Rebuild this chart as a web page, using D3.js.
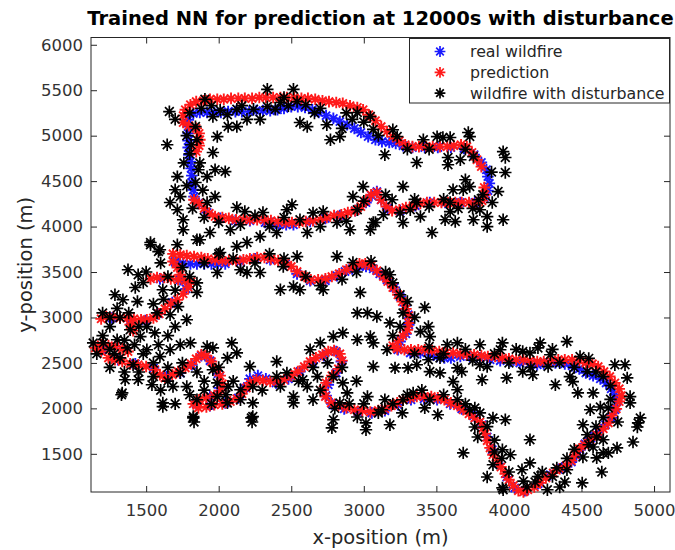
<!DOCTYPE html>
<html>
<head>
<meta charset="utf-8">
<script src="https://cdn.jsdelivr.net/npm/d3@7"></script>
<style>
  html, body { margin: 0; padding: 0; background: #fff; }
  svg { display: block; font-family: "DejaVu Sans", "Liberation Sans", sans-serif; }
</style>
</head>
<body>
<svg id="chart" width="675" height="550"></svg>
<script>
// Axis ticks and labels
const xTicks = [1500, 2000, 2500, 3000, 3500, 4000, 4500, 5000];
const yTicks = [1500, 2000, 2500, 3000, 3500, 4000, 4500, 5000, 5500, 6000];
const seriesNames = ["real wildfire", "prediction", "wildfire with disturbance"];
const seriesColors = ["#1a1aff", "#ff1a1a", "#000000"];

// Real wildfire front (x, y in metres)
const realFire = [
  [1790,5175],[1790,5100],[1790,5025],[1790,4945],[1790,4870],[1795,4790],[1805,4715],[1810,4640],[1815,4560],[1815,4485],[1825,4405],[1830,4330],[1860,4255],
  [1825,5245],[1870,5255],[1920,5255],[1970,5255],[2015,5255],[2065,5265],[2115,5265],[2160,5265],[2210,5265],[2260,5275],[2305,5275],[2355,5275],[2405,5285],[2450,5300],[2500,5320],[2545,5320],[2595,5310],[2645,5285],[2690,5255],[2740,5220],[2790,5190],[2835,5155],[2885,5120],[2935,5080],[2980,5035],[3030,4990],[3080,4955],[3125,4935],[3175,4925],[3220,4915],[3270,4890],
  [3335,4870],[3420,4870],[3510,4870],[3600,4870],[3690,4860],[3760,4790],[3810,4705],[3845,4625],[3855,4550],[3865,4475],[3855,4395],[3830,4320],
  [3765,4265],[3665,4265],[3560,4265],[3455,4265],[3355,4230],[3250,4175],[3165,4200],[3120,4295],[3090,4385],[3055,4340],[3015,4265],[2940,4175],[2835,4120],[2735,4090],[2630,4055],[2515,4020],[2465,4020],[2415,4020],[2370,4035],[2320,4045],[2215,4065],[2115,4065],[2010,4090],[1920,4155],
  [1705,3600],[1755,3595],[1805,3590],[1850,3590],[1900,3590],[1950,3590],[1995,3590],[2045,3590],[2150,3615],[2250,3645],[2355,3635],[2460,3590],[2540,3480],[2630,3405],[2735,3405],[2815,3460],[2870,3505],[2920,3535],[2970,3560],[3015,3560],[3065,3535],[3110,3480],[3160,3415],[3210,3330],[3250,3230],[3285,3130],[3305,3030],[3310,2920],[3290,2820],[3250,2735],[3235,2645],
  [3320,2610],[3390,2610],[3455,2590],[3505,2570],[3555,2555],[3600,2555],[3665,2570],[3730,2570],[3800,2555],[3870,2535],[3940,2525],[4010,2515],[4075,2500],[4145,2490],[4195,2480],[4240,2490],[4320,2500],[4385,2490],[4435,2470],[4485,2435],[4530,2390],[4580,2360],[4630,2325],[4670,2280],[4705,2215],[4730,2150],[4745,2075],
  [4730,1985],[4705,1895],[4665,1820],[4615,1740],[4565,1675],[4525,1610],[4490,1545],[4465,1480],[4430,1410],[4365,1345],[4285,1270],[4200,1170],[4110,1095],[4040,1125],[3985,1245],[3930,1390],[3885,1545],[3850,1685],[3815,1820],[3755,1920],[3675,1995],[3595,2050],[3505,2095],[3415,2105],[3325,2095],[3235,2040],[3145,1975],[3055,1950],[2960,1960],[2865,1995],[2780,2050],[2740,2140],[2755,2260],[2810,2390],[2845,2515],[2810,2625],[2725,2580],[2645,2500],[2560,2405],[2480,2325],[2395,2280],[2325,2325],[2270,2360],[2215,2325],[2175,2225],[2135,2115],[2045,2060],[1940,2030],[1845,2050],[1940,2130],[2005,2225],[1995,2380],[1940,2525],[1880,2580],[1815,2480],[1735,2390],[1640,2350],[1550,2445],[1425,2490],[1305,2535],[1195,2645],[1285,2680],[1390,2965],[1265,2995],[1495,2965],[1585,3040],[1680,3165],[1775,3315],[1735,3415],[1595,3425],[1700,3615]
];

// Network prediction of the front
const predicted = [
  [1755,5145],[1755,5220],[1770,5285],[1805,5340],[1845,5375],[1895,5385],[1940,5400],[1990,5400],[2035,5400],[2085,5410],[2135,5410],[2180,5410],[2230,5410],[2280,5420],[2325,5420],[2375,5420],[2425,5420],[2470,5420],[2520,5420],[2570,5410],[2615,5410],[2665,5400],[2715,5385],[2760,5375],[2810,5365],[2855,5355],[2905,5330],[2955,5310],[2995,5285],[3035,5230],[3080,5165],[3120,5100],[3160,5045],[3200,4990],[3245,4945],[3285,4900],[3335,4880],[3380,4880],[3430,4880],[3475,4880],[3525,4880],[3575,4880],[3620,4890],[3670,4900],[3710,4880],[3745,4815],[3780,4735],[3810,4660],[3830,4430],[3835,4350],[3815,4285],
  [3775,4265],[3725,4265],[3675,4265],[3630,4265],[3580,4265],[3535,4265],[3485,4265],[3435,4265],[3390,4255],[3340,4230],[3290,4210],[3245,4185],[3195,4175],[3155,4220],[3120,4295],[3090,4375],[3050,4350],[3015,4285],[2980,4220],[2940,4175],[2890,4155],[2845,4130],[2795,4120],[2745,4100],[2700,4075],[2650,4065],[2600,4055],[2555,4045],[2505,4045],[2460,4045],[2410,4055],[2360,4065],[2315,4075],[2265,4075],[2215,4075],[2170,4075],[2120,4075],[2070,4090],[2025,4100],[1975,4110],[1935,4145],[1900,4200],[1865,4255],[1830,4295],
  [1845,4825],[1865,4890],[1870,4955],[1865,5025],[1845,5080],[1795,5110],
  [1285,2535],[1335,2515],[1390,2490],[1445,2480],[1500,2460],[1560,2425],[1595,2370],[1630,2335],[1680,2370],[1720,2405],[1770,2445],[1810,2490],[1845,2545],[1880,2590],[1915,2580],[1950,2515],[1980,2435],[2010,2360],[2025,2270],[2015,2195],[1970,2140],[1915,2115],[1865,2095],[1825,2050],[1860,2005],[1915,2015],[1970,2040],[2025,2050],[2080,2075],[2125,2105],[2160,2160],[2190,2225],[2215,2280],[2260,2315],[2305,2305],[2355,2295],[2405,2295],[2450,2315],[2500,2360],[2545,2405],[2590,2460],[2630,2515],[2670,2555],[2715,2590],[2755,2625],[2795,2635],[2835,2600],[2850,2525],[2825,2435],[2780,2360],[2740,2280],[2720,2205],[2735,2130],[2775,2060],[2825,2030],[2880,2005],[2935,1985],[2990,1975],[3045,1960],[3100,1975],[3145,1995],[3190,2030],[3230,2060],[3270,2095],[3320,2115],[3365,2130],[3415,2130],[3465,2130],[3510,2115],[3555,2095],[3600,2060],[3645,2030],[3685,1985],[3725,1940],[3765,1895],[3800,1850],[3820,1785],[3835,1720],[3850,1645],[3870,1565],[3890,1490],[3920,1425],[3945,1355],[3975,1280],[4000,1215],[4030,1150],[4065,1095],[4100,1080],[4130,1105],[4175,1135],[4215,1180],[4255,1235],[4305,1290],[4350,1335],[4395,1370],[4430,1425],[4455,1490],[4485,1555],[4520,1600],[4560,1655],[4605,1710],[4650,1775],[4685,1840],[4710,1920],[4740,1995],[4760,2075],[4775,2140],[4760,2215],[4730,2280],[4695,2350],[4655,2405],[4615,2460],[4575,2490],[4530,2500],[4485,2525],[4435,2535],[4385,2535],[4340,2535],[4290,2525],[4240,2515],[4195,2515],[4145,2525],[4100,2535],[4050,2535],[4000,2545],[3955,2555],[3905,2570],[3855,2570],[3810,2580],[3760,2590],[3710,2590],[3665,2600],[3615,2610],[3565,2610],[3520,2625],[3470,2635],[3420,2645],[3375,2645],[3325,2645],[3280,2645],[3230,2655],[3200,2690],[3235,2745],[3270,2800],[3300,2865],[3310,2940],[3310,3020],[3290,3095],[3265,3175],[3235,3250],[3200,3330],[3165,3395],[3135,3450],[3090,3515],[3050,3570],[3010,3590],[2970,3590],[2925,3560],[2880,3525],[2830,3480],[2780,3450],[2735,3425],[2685,3415],[2635,3415],[2590,3450],[2540,3505],[2500,3560],[2460,3605],[2410,3625],[2360,3645],[2315,3660],[2265,3660],[2215,3645],[2170,3635],[2120,3625],[2070,3625],[2025,3625],[1975,3635],[1925,3645],[1880,3660],[1830,3670],[1780,3680],[1735,3690],[1685,3700],
  [1685,3615],[1715,3550],[1735,3470],
  [1530,3425],[1575,3440],[1625,3440],[1670,3425],[1720,3415],[1770,3405],[1810,3395],
  [1790,3330],[1755,3260],[1715,3195],[1670,3150],[1630,3095],[1590,3040],[1550,2995],
  [1505,2975],[1465,2975],[1415,2985],[1370,2995],[1320,2995],[1275,3010],[1225,3010],[1190,2985],[1390,2920],[1410,2855],
  [1150,2665],[1190,2700],[1240,2690],[1285,2680],[1335,2655],[1375,2625],[1190,2625],[1240,2555]
];

// Front measured with disturbance
const disturbed = [
  [1660,5265],[1700,5180],[1645,4900],[1905,5400],[2335,5510],[2515,5510],[2450,5420],[2125,5290],[2065,5100],[2125,5100],[2195,5180],[2285,5180],[2335,5320],[2425,5365],[2540,5375],[2560,5145],[2610,5100],[2745,5120],[2770,4955],[2835,4990],[2955,5255],[3045,5210],[3065,5070],[1960,5210],[1990,4990],[1960,4815],[1975,4625],[2045,4605],[1920,4550],[1715,4550],[1700,4405],[1735,4330],[1665,4265],[1715,4185],[1755,4075],[1755,3965],[1920,4265],[1975,4330],[2125,4210],[2180,4165],[2305,4155],[2470,4185],[2505,4240],[2560,4075],[2610,3935],[2400,3935],[2285,3890],[2080,3965],[1940,3935],[1850,3855],[1530,3825],[2720,4165],[2815,4045],[2905,3965],[2925,4330],[2995,4440],[2955,4185],[3045,3965],[3065,4045],[1840,5100],[1850,4955],[1860,4625],[1840,4485],
  [1800,5250],[1880,5300],[1950,5330],[2010,5280],[2060,5230],[2160,5330],[2240,5290],[2390,5290],[2480,5330],[2600,5340],[2660,5250],[2700,5300],[2880,5250],[2920,5180],[3000,5150],[2850,5080],[1780,5000],[1810,4900],[1760,4700],[1800,4800],[1870,4700],[1780,4450],[1890,4400],[1820,4200],[1900,4100],[2000,4050],[2150,4020],[2250,4120],[2350,4000],[2450,4100],[2650,4150],[2700,4000],[2880,4060],[3000,4280],[3150,4350],[3250,4150],[3350,4300],[3450,4220],[3550,4300],[3650,4200],[3750,4200],[3820,4350],[3880,4600],[3700,4850],[3450,4850],[3300,4850],[3100,5000],
  [3200,5065],[3230,4990],[3145,4790],[3365,4705],[3410,4955],[3505,4990],[3545,4980],[3595,4980],[3580,4760],[3580,4680],[3665,4735],[3720,5035],[3730,4990],[3755,4770],[3960,4825],[3975,4760],[3975,4595],[3925,4385],[3960,4075],[3885,4265],[3850,4110],[3850,4000],[3755,4075],[3730,4440],[3685,4405],[3615,4405],[3595,4265],[3595,4165],[3630,4055],[3560,4075],[3470,3935],[3365,4265],[3390,4110],[3270,4440],[3270,4045],[3195,4295],[3135,4130],[3080,4045],[3320,4185],[3790,4295],[3800,4185],[3700,4515],
  [1595,3745],[1715,3800],[1870,3855],[2125,3780],[2195,3825],[2010,3715],[1375,3525],[1445,3470],[1480,3385],[1425,3330],[1285,3250],[1340,3195],[1440,3175],[1615,3305],[1720,3120],[1780,2975],[1665,3030],[1575,3050],[1250,2900],[1320,3000],[1390,2865],[1205,2720],[1135,2720],[1300,2755],[1370,2665],[1460,2790],[1505,2900],[1560,2830],[1585,2700],[1505,2645],[1595,2570],[1665,2645],[1735,2700],[1805,2720],[1320,2555],[1410,2480],[1355,2315],[1445,2315],[1540,2260],[1335,2170],[1615,2060],[1685,2240],[1735,2390],[1780,2240],[1850,2095],[1825,1910],[1920,2680],[1960,2665],[2090,2720],[2125,2610],[2060,2555],[1960,2425],[1990,2280],[2065,2240],[2150,2205],[2235,2240],[2215,2460],[2400,2515],[2235,2060],[2150,2095],[2235,1910],[2060,2060],[1990,2130],[2425,2240],[2470,2390],[2515,2130],[2580,2315],[2630,2645],[2700,2720],[2790,2790],[2855,2830],[2955,2755],[3065,2720],[3045,2790],[2515,2060],[2610,2240],[2680,2350],[2790,2350],[2855,2280],[2885,2170],[3025,2130],[3065,2460],[2835,2060],[2650,2095],[2955,1905],[2790,1875],[2425,3305],[2515,3340],[2560,3305],[2720,3305],[2975,3275],[2195,3495],[2285,3495],[2150,3525],[1990,3495],[1850,3275],[2445,3560],[2540,3670],[2815,3670],[2925,3605],[2955,3050],[3025,3050],[3090,3010],[1530,3800],[1585,3725],[1330,2150],[1615,2020],[1825,1895],[2225,1895],[3180,3470],[3270,3050],
  [1200,2800],[1250,2650],[1160,2600],[1280,2600],[1350,2750],[1420,2700],[1480,2600],[1450,2900],[1380,3050],[1300,3100],[1250,3000],[1200,3050],[1550,3150],[1620,3200],[1700,3300],[1650,3450],[1750,3550],[1600,3600],[1500,3500],[1800,3450],[1850,3380],[1700,2900],[1650,2800],[1550,2500],[1650,2450],[1750,2500],[1850,2400],[1900,2300],[1800,2150],[1700,2050],[1950,2050],[2050,2150],[2100,2300],[2000,2450],[1450,2400],[1350,2400],[1250,2450],[1550,2350],[1650,2300],[1600,2200],[1900,2200],
  [2300,2200],[2400,2350],[2550,2300],[2650,2450],[2750,2500],[2850,2450],[2700,2200],[2800,2000],[2900,2050],[3000,2050],[3100,1950],[3200,2050],[3300,2150],[2950,2300],
  [1900,3600],[2000,3700],[2100,3650],[2250,3600],[2350,3700],[2450,3650],[2600,3450],[2700,3350],[2850,3420],[2950,3500],[3050,3620],[3150,3500],[3200,3380],[3250,3250],[3350,3000],[3250,2900],[3200,2800],
  [3300,3175],[3420,3110],[3445,2900],[3390,2845],[3455,2790],[3180,2940],[3160,2645],[3215,2445],[3305,2445],[3365,2480],[3455,2405],[3525,2390],[3445,2535],[3575,2700],[3645,2720],[3525,2555],[3645,2445],[3675,2405],[3800,2700],[3955,2720],[3940,2645],[3800,2480],[3815,2315],[3985,2335],[3850,2460],[4095,2625],[4145,2610],[4215,2720],[4200,2665],[4285,2590],[4095,2405],[4165,2370],[4270,2460],[4320,2260],[4400,2735],[4420,2350],[4440,2295],[4475,2170],[4490,2570],[4540,2405],[4580,2170],[4730,2480],[4800,2480],[4815,2335],[4835,2130],[4835,2060],[4905,1895],[4885,1795],[4855,1630],[4745,1565],[4650,1510],[4640,1300],[4560,1985],[4630,2015],[4685,2005],[4510,1820],[4540,1710],[4605,1685],[4650,1655],[4580,1575],[4510,1465],[4505,1180],[4400,1325],[4330,1345],[4230,1300],[4145,1400],[4180,1190],[4265,1105],[4125,1135],[4090,1325],[3960,1105],[3850,1245],[3890,1380],[3955,1545],[4010,1490],[3685,1510],[3975,1875],[3890,1895],[3765,1795],[3730,1985],[3765,2005],[3645,2095],[3615,2295],[3645,2205],[3510,1930],[3455,2095],[3340,2170],[3420,2005],[3270,2095],[3145,2095],[3125,1985],[3265,1950],[3180,1820],
  [3350,2600],[3450,2680],[3550,2600],[3700,2650],[3750,2530],[3900,2600],[4000,2500],[4050,2650],[4150,2450],[4300,2650],[4350,2500],[4450,2450],[4550,2550],[4600,2400],[4650,2350],[4700,2250],
  [4700,2100],[4650,1900],[4750,1850],[4600,1800],[4550,1600],[4450,1550],[4400,1450],[4300,1250],[4200,1250],[4100,1200],[4000,1300],[3950,1450],[3900,1650],[3850,1800],[3800,1950],[3700,2050],[3550,2150],[3400,2200],
  [1830,1850],[2230,1850],[2780,1785],[3015,1840],[3015,1765],[3955,1125],[4350,1135],[4385,1190],[4605,1455],[4685,1510],[4890,1840],[4145,1655],[3900,1520],[3785,1685]
];

const series = [realFire, predicted, disturbed];

const svg = d3.select("#chart");
const margin = { left: 91, right: 670, top: 37.5, bottom: 492 };

const x = d3.scaleLinear().domain([1120, 5110]).range([margin.left, margin.right]);
const y = d3.scaleLinear().domain([1080, 6080]).range([margin.bottom, margin.top]);

const axisColor = "#262626";
const tickLen = 6;

// Plot background
svg.append("rect")
  .attr("x", margin.left).attr("y", margin.top)
  .attr("width", margin.right - margin.left).attr("height", margin.bottom - margin.top)
  .attr("fill", "#fff");

// Axes with inward ticks on all four sides
function styleAxis(g) {
  g.select(".domain").remove();
  g.selectAll(".tick line").attr("stroke", axisColor).attr("stroke-width", 1);
  g.selectAll(".tick text").attr("fill", "#333").style("font-size", "16.5px")
    .style("font-family", "'DejaVu Sans', sans-serif");
}

svg.append("g")
  .attr("transform", `translate(0,${margin.bottom})`)
  .call(d3.axisBottom(x).tickValues(xTicks).tickSize(-tickLen).tickPadding(12).tickFormat(d3.format("d")))
  .call(styleAxis);

svg.append("g")
  .attr("transform", `translate(0,${margin.top})`)
  .call(d3.axisTop(x).tickValues(xTicks).tickSize(-tickLen).tickFormat(""))
  .call(styleAxis);

svg.append("g")
  .attr("transform", `translate(${margin.left},0)`)
  .call(d3.axisLeft(y).tickValues(yTicks).tickSize(-tickLen).tickPadding(8).tickFormat(d3.format("d")))
  .call(styleAxis);

svg.append("g")
  .attr("transform", `translate(${margin.right},0)`)
  .call(d3.axisRight(y).tickValues(yTicks).tickSize(-tickLen).tickFormat(""))
  .call(styleAxis);

// Plot box
svg.append("rect")
  .attr("x", margin.left).attr("y", margin.top)
  .attr("width", margin.right - margin.left).attr("height", margin.bottom - margin.top)
  .attr("fill", "none").attr("stroke", axisColor).attr("stroke-width", 1);

// Eight-armed asterisk marker
function asterisk(r) {
  const k = r * Math.SQRT1_2;
  return `M${-r},0H${r}M0,${-r}V${r}M${-k},${-k}L${k},${k}M${-k},${k}L${k},${-k}`;
}

const markerR = [5.8, 5.8, 6.2];
const markerW = [1.9, 1.9, 1.7];

series.forEach((pts, i) => {
  svg.append("g")
    .selectAll("path")
    .data(pts)
    .join("path")
    .attr("transform", d => `translate(${x(d[0])},${y(d[1])})`)
    .attr("d", asterisk(markerR[i]))
    .attr("fill", "none")
    .attr("stroke", seriesColors[i])
    .attr("stroke-width", markerW[i]);
});

// Legend
const legend = svg.append("g");
legend.append("rect")
  .attr("x", 409.5).attr("y", 38.5).attr("width", 260).attr("height", 64.5)
  .attr("fill", "#fff").attr("stroke", axisColor).attr("stroke-width", 1);

seriesNames.forEach((name, i) => {
  const cy = 51.5 + i * 20.8;
  legend.append("path")
    .attr("transform", `translate(440,${cy})`)
    .attr("d", asterisk(5.4))
    .attr("fill", "none").attr("stroke", seriesColors[i]).attr("stroke-width", 1.7);
  legend.append("text")
    .attr("x", 470).attr("y", cy + 5.5)
    .attr("fill", "#262626")
    .style("font-size", "15.8px")
    .text(name);
});

// Titles
svg.append("text")
  .attr("x", (margin.left + margin.right) / 2).attr("y", 25)
  .attr("text-anchor", "middle")
  .style("font-size", "19.5px").style("font-weight", "bold")
  .attr("fill", "#000")
  .text("Trained NN for prediction at 12000s with disturbance");

svg.append("text")
  .attr("x", (margin.left + margin.right) / 2).attr("y", 544)
  .attr("text-anchor", "middle")
  .style("font-size", "19.5px").attr("fill", "#262626")
  .text("x-position (m)");

svg.append("text")
  .attr("transform", `translate(32,${(margin.top + margin.bottom) / 2}) rotate(-90)`)
  .attr("text-anchor", "middle")
  .style("font-size", "19.5px").attr("fill", "#262626")
  .text("y-position (m)");
</script>
</body>
</html>
